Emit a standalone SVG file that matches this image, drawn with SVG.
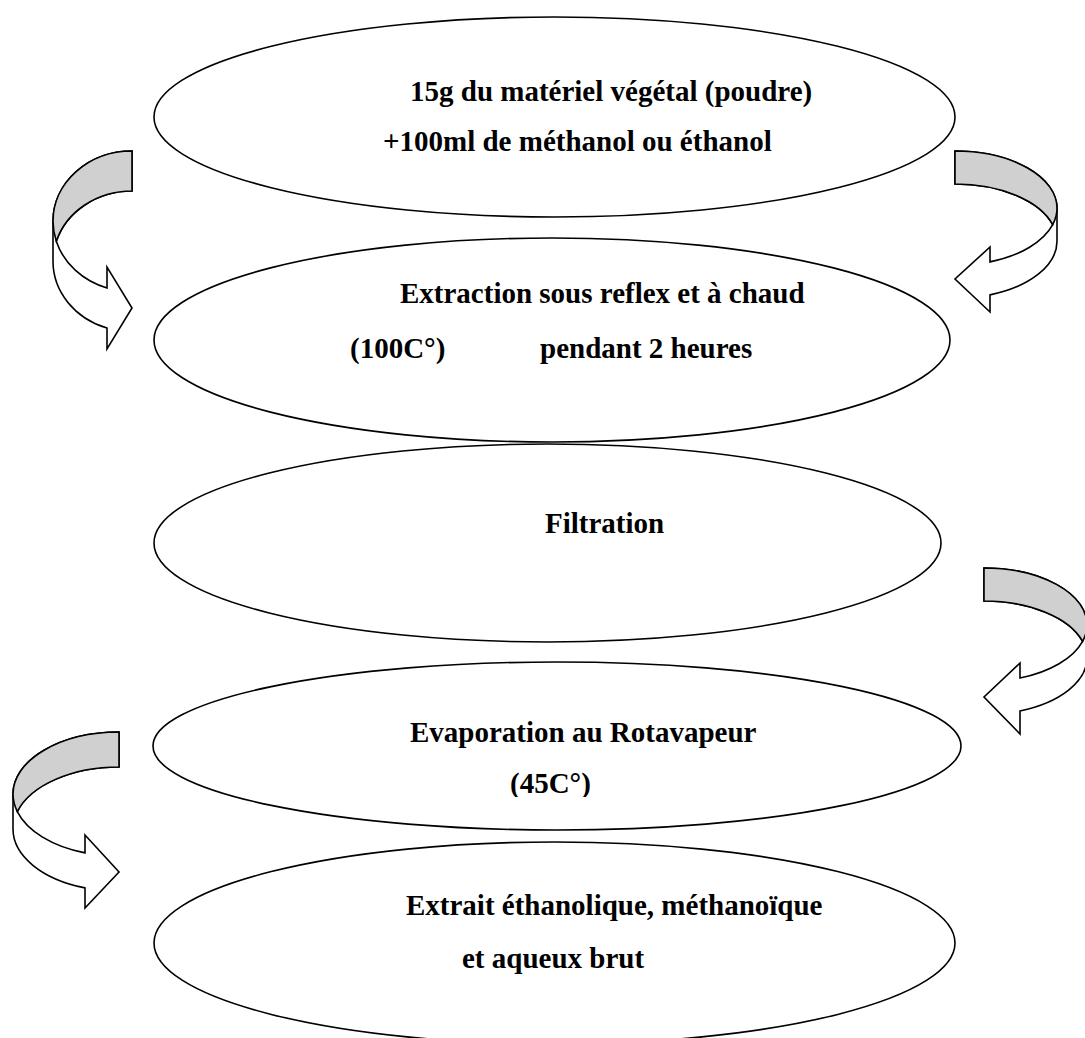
<svg xmlns="http://www.w3.org/2000/svg" width="1085" height="1038" viewBox="0 0 1085 1038">
<style>
.node ellipse{fill:#fff;stroke:#000;stroke-width:1.6}
.node text{font-family:"Liberation Serif","Times New Roman",serif;font-weight:bold;font-size:29px;fill:#000}
.arr .body{fill:#fff;stroke:#000;stroke-width:1.6;stroke-linejoin:miter}
.arr .back{fill:#d0d0d0;stroke:#000;stroke-width:1.6}
</style>
<defs>
<clipPath id="clip45"><rect x="380" y="760" width="300" height="37"/></clipPath>
</defs>
<rect width="1085" height="1038" fill="#fff"/>
<g id="connectors">
<g class="arr" id="arrow1">
<path class="body" d="M132,151 A79,70.3 0 0 0 53,221.3 L53,261.3 A79,70.3 0 0 0 107,328 L107,349 L132,308 L107,267 L107,288 A79,70.3 0 0 1 56.3,241.3 A79,70.3 0 0 1 132,191 Z"/>
<path class="back" d="M132,151 A79,70.3 0 0 0 53,221.3 A79,70.3 0 0 0 56.3,241.3 A79,70.3 0 0 1 132,191 Z"/>
</g>
<g class="arr" id="arrow2">
<path class="body" d="M955,151 A102,57.2 0 0 1 1057,208.2 L1057,241.2 A102,57.2 0 0 1 990,294.9 L990,312 L955,279 L990,247 L990,261.9 A102,57.2 0 0 0 1052.7,224.7 A102,57.2 0 0 0 955,184 Z"/>
<path class="back" d="M955,151 A102,57.2 0 0 1 1057,208.2 A102,57.2 0 0 1 1052.7,224.7 A102,57.2 0 0 0 955,184 Z"/>
</g>
<g class="arr" id="arrow3">
<path class="body" d="M984,568 A103,56.8 0 0 1 1087,624.8 L1087,657.8 A103,56.8 0 0 1 1020,711 L1020,734 L984,697 L1020,663 L1020,678 A103,56.8 0 0 0 1082.6,641.3 A103,56.8 0 0 0 984,601 Z"/>
<path class="back" d="M984,568 A103,56.8 0 0 1 1087,624.8 A103,56.8 0 0 1 1082.6,641.3 A103,56.8 0 0 0 984,601 Z"/>
</g>
<g class="arr" id="arrow4">
<path class="body" d="M119,732 A106,62.1 0 0 0 13,794.1 L13,829.1 A106,62.1 0 0 0 85,887.9 L85,908 L119,872 L85,835 L85,852.9 A106,62.1 0 0 1 17.3,811.6 A106,62.1 0 0 1 119,767 Z"/>
<path class="back" d="M119,732 A106,62.1 0 0 0 13,794.1 A106,62.1 0 0 0 17.3,811.6 A106,62.1 0 0 1 119,767 Z"/>
</g>
</g>
<g class="node" id="n1">
<ellipse cx="554.5" cy="117" rx="400.5" ry="100"/>
<text x="410" y="101">15g du matériel végétal (poudre)</text>
<text x="383" y="151">+100ml de méthanol ou éthanol</text>
</g>
<g class="node" id="n2">
<ellipse cx="552" cy="340" rx="398" ry="102"/>
<text x="400" y="303">Extraction sous reflex et à chaud</text>
<text x="350" y="358">(100C°)</text>
<text x="540" y="358">pendant 2 heures</text>
</g>
<g class="node" id="n3">
<ellipse cx="547.5" cy="543" rx="393.5" ry="99"/>
<text x="545" y="533">Filtration</text>
</g>
<g class="node" id="n4">
<ellipse cx="557" cy="746" rx="404" ry="84"/>
<text x="410" y="742">Evaporation au Rotavapeur</text>
<text x="510" y="793" clip-path="url(#clip45)">(45C°)</text>
</g>
<g class="node" id="n5">
<ellipse cx="554.5" cy="943" rx="400.5" ry="101"/>
<text x="406" y="915">Extrait éthanolique, méthanoïque</text>
<text x="462" y="968">et aqueux brut</text>
</g>
</svg>
